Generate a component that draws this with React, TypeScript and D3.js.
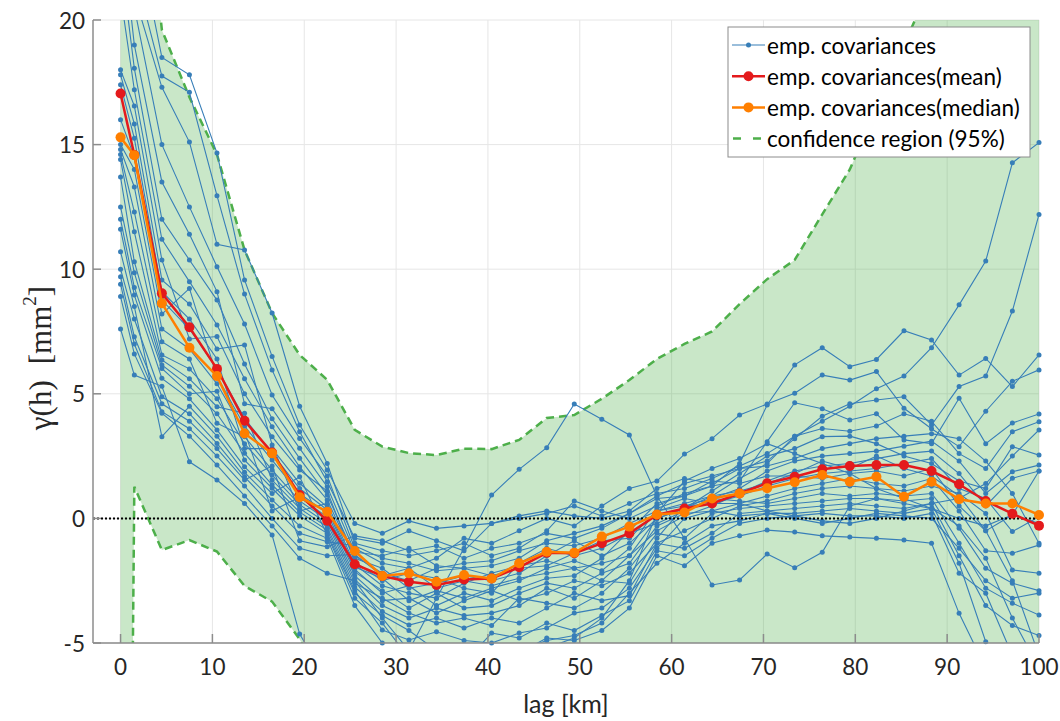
import React from 'react';
import * as d3 from 'd3';

// lag positions [km]
const lags = [0, 1.5, 4.5, 7.5, 10.5, 13.5, 16.5, 19.5, 22.5, 25.5, 28.5, 31.4, 34.4, 37.4, 40.4, 43.4, 46.4, 49.4, 52.4, 55.4, 58.4, 61.4, 64.4, 67.4, 70.4, 73.4, 76.4, 79.4, 82.3, 85.3, 88.3, 91.3, 94.2, 97.1, 100];

const meanCov = [17.05, 14.58, 9.03, 7.67, 6.0, 3.92, 2.64, 0.94, -0.09, -1.84, -2.31, -2.54, -2.67, -2.45, -2.41, -1.96, -1.38, -1.4, -1.0, -0.6, 0.14, 0.4, 0.6, 1.0, 1.41, 1.67, 1.97, 2.1, 2.14, 2.14, 1.9, 1.37, 0.7, 0.19, -0.29];
const medianCov = [15.29, 14.57, 8.63, 6.85, 5.71, 3.41, 2.61, 0.85, 0.27, -1.31, -2.31, -2.2, -2.54, -2.27, -2.41, -1.8, -1.34, -1.38, -0.73, -0.33, 0.16, 0.24, 0.8, 1.0, 1.21, 1.45, 1.74, 1.47, 1.67, 0.87, 1.47, 0.77, 0.6, 0.6, 0.14];
const upperCI = [60, 30, 19.6, 16.9, 14.6, 10.77, 8.24, 6.56, 5.56, 3.55, 2.88, 2.62, 2.54, 2.8, 2.78, 3.15, 4.03, 4.15, 4.8, 5.55, 6.4, 7.0, 7.5, 8.6, 9.6, 10.37, 12.2, 14.0, 16.5, 19.0, 21.5, 24.5, 27.5, 31, 35];
const lowerCI = [-60, 1.27, -1.27, -0.87, -1.33, -2.71, -3.34, -4.85, -7.0, -8.5, -9.5, -10.2, -10.8, -11.0, -11.2, -11.0, -10.8, -10.6, -10.4, -10.3, -10.1, -10.0, -10.0, -10.2, -10.4, -10.8, -11.3, -12.0, -12.8, -13.8, -15.0, -16.5, -18.0, -20.0, -22.0];

const s01 = [30, 24, 18.5, 17.8, 14.66, 9.57, 6.5, 3.75, 1.94, -0.2, -0.6, -0.1, -0.4, -0.3, -0.2, 0.0, 0.2, 0.5, 0.1, 0.6, 1.0, 1.2, 1.6, 2.1, 2.6, 3.3, 3.9, 4.5, 5.2, 5.71, 6.85, 8.57, 10.33, 14.27, 15.08];
const s02 = [28, 22, 17.75, 17.1, 12.95, 9.0, 5.96, 3.48, 1.47, -0.8, -1.0, -0.5, -0.9, -1.3, -0.2, 0.1, 0.3, 0.1, 0.0, 0.3, 1.2, 1.6, 1.4, 2.0, 2.3, 3.2, 4.1, 4.6, 4.75, 4.88, 3.75, 5.29, 5.71, 8.32, 12.2];
const s03 = [26, 21, 17.3, 15.1, 11.0, 10.77, 8.24, 4.5, 2.2, -1.0, -1.3, -1.5, -1.3, -1.0, -1.5, -1.2, -0.5, 0.7, 0.3, 0.0, 0.5, 1.0, 1.3, 2.2, 4.55, 6.16, 6.85, 6.09, 6.38, 7.53, 7.16, 5.75, 6.42, 5.29, 6.56];
const s04 = [25, 20.5, 15.0, 12.5, 10.1, 7.8, 4.95, 3.21, 1.7, -1.2, -1.8, -2.0, -1.6, -0.8, -1.0, -0.5, 0.0, -0.3, 0.5, 1.2, 1.5, 2.58, 3.2, 4.15, 4.59, 5.02, 5.75, 5.55, 5.89, 4.42, 3.6, 2.88, 4.3, 5.5, 5.96];
const s05 = [24, 19, 13.5, 11.4, 9.1, 4.6, 4.4, 2.81, 1.27, -1.35, -1.5, -1.2, -1.9, -2.0, -1.9, -1.6, -0.9, -0.6, -0.3, 0.2, 0.8, 0.9, 1.3, 1.5, 3.08, 4.64, 4.4, 3.95, 4.2, 3.15, 3.0, 4.82, 3.0, 3.83, 4.19];
const s06 = [22.5, 18.06, 12.0, 10.37, 8.76, 6.2, 4.0, 2.41, 0.94, -1.5, -2.2, -2.5, -2.0, -1.8, -1.7, -1.3, -1.0, -1.1, -0.8, -0.2, 0.3, 0.6, 0.9, 1.6, 2.2, 3.3, 3.61, 3.5, 3.71, 4.2, 3.9, 2.6, 2.0, 3.48, 3.88];
const s07 = [21, 17.2, 11.2, 9.5, 7.76, 5.6, 3.68, 2.07, 0.74, -1.6, -2.0, -2.8, -2.6, -2.3, -2.5, -2.2, -1.5, -0.9, -1.5, -1.0, 0.0, 0.4, 1.1, 1.8, 2.5, 2.8, 3.28, 3.3, 3.0, 2.5, 2.2, 1.5, 1.2, 2.88, 2.54];
const s08 = [18.0, 16.55, 10.37, 7.2, 7.3, 5.0, 3.28, 1.94, 1.1, -1.75, -2.5, -2.2, -2.4, -2.8, -3.0, -1.8, -1.2, -1.5, -1.2, -0.6, -0.2, 0.3, 0.8, 1.2, 1.9, 2.3, 2.5, 2.6, 2.7, 2.9, 3.1, 2.3, 1.0, 1.87, 2.14];
const s09 = [17.8, 15.83, 9.57, 8.6, 6.8, 6.96, 2.95, 0.3, 0.6, -1.85, -2.7, -3.0, -3.2, -2.6, -2.2, -1.9, -1.7, -2.0, -1.8, -1.5, -0.5, 0.1, 0.5, 1.0, 1.5, 1.9, 2.1, 2.2, 2.4, 2.6, 2.7, 1.8, 0.5, 1.61, 1.9];
const s10 = [17.4, 15.25, 9.1, 8.0, 6.4, 2.8, 2.8, 1.41, 0.45, -1.95, -2.4, -3.3, -2.9, -3.2, -2.8, -2.5, -2.0, -1.7, -2.1, -1.2, 0.4, 0.8, 0.6, 0.9, 1.3, 1.6, 1.8, 1.9, 2.0, 2.2, 2.4, 1.2, 0.8, -0.53, 0.07];
const s11 = [16.0, 14.5, 8.76, 7.6, 6.0, 4.02, 2.61, 1.2, 0.34, -2.05, -3.0, -2.7, -3.5, -3.0, -3.3, -2.8, -2.4, -2.3, -1.6, -0.5, 0.6, 0.9, 1.5, 1.4, 1.7, 1.7, 1.6, 1.8, 1.9, 1.7, 2.0, 0.5, -0.5, 0.14, -0.2];
const s12 = [15.0, 14.0, 8.2, 9.23, 5.7, 3.7, 2.34, 1.0, 0.2, -2.15, -2.9, -3.6, -3.0, -3.6, -3.5, -3.0, -2.6, -2.8, -2.2, -1.8, -0.3, 0.2, 0.3, 0.6, 0.9, 1.2, 1.4, 1.6, 1.4, 1.3, 1.6, 0.3, -1.3, -1.4, -1.07];
const s13 = [14.8, 13.3, 7.6, 6.8, 5.4, 3.48, 0.3, 0.85, 0.05, -2.3, -3.3, -3.2, -3.8, -3.3, -2.9, -3.3, -3.0, -2.5, -2.7, -2.2, -1.0, -0.5, 0.0, 0.5, 0.7, 1.0, 1.2, 1.3, 1.2, 1.1, 1.3, 1.0, 0.2, -2.07, -2.2];
const s14 = [14.6, 12.3, 7.09, 6.4, 3.82, 3.28, 1.94, 0.7, -0.07, -2.45, -3.5, -4.0, -3.6, -3.9, -3.8, -3.5, -2.8, -3.2, -2.5, -2.6, -0.8, 0.5, 0.8, 0.7, 0.6, 0.8, 1.0, 0.9, 1.0, 0.9, 1.0, -0.4, -2.0, -2.6, -2.9];
const s15 = [14.4, 11.5, 6.56, 6.0, 4.8, 3.0, 1.74, 0.55, -0.2, -2.6, -3.2, -3.8, -4.2, -4.0, -4.3, -3.2, -3.4, -3.6, -3.0, -2.0, -0.6, -0.8, 0.2, 0.4, 0.5, 0.6, 0.7, 0.8, 0.8, 0.7, 0.8, -1.0, -2.8, -3.4, -3.88];
const s16 = [13.7, 10.3, 6.36, 5.6, 4.48, 4.22, 1.54, 0.4, -0.35, -2.75, -3.74, -4.28, -4.0, -4.4, -4.0, -4.2, -3.6, -3.0, -3.3, -3.1, -1.0, -1.2, -0.6, 0.2, 0.3, 0.4, 0.5, 0.6, 0.5, 0.4, 0.6, -1.5, -3.5, -4.3, -4.7];
const s17 = [12.5, 9.86, 6.16, 5.3, 4.2, 2.61, 1.35, 0.25, -0.47, -2.9, -4.48, -4.88, -4.55, -4.9, -5.0, -4.6, -4.4, -3.8, -3.6, -2.8, -1.2, 0.0, 0.3, 0.1, 0.2, 0.2, 0.3, 0.4, 0.3, 0.2, 0.4, -1.8, -4.95, -6.5, -7.5];
const s18 = [12.0, 9.27, 6.02, 5.0, 5.1, 2.34, 1.21, 0.1, -0.6, -3.0, -3.9, -4.5, -5.3, -5.8, -4.6, -4.8, -4.2, -4.5, -3.9, -3.3, -1.3, -1.5, -0.8, -0.2, 0.0, 0.1, 0.2, 0.1, 0.1, 0.0, 0.2, -2.2, -3.0, -5.5, -8.0];
const s19 = [11.6, 8.96, 5.62, 4.8, 3.55, 2.07, 1.0, 1.67, -0.67, -3.2, -4.2, -5.6, -6.0, -5.2, -5.5, -5.3, -4.9, -4.7, -4.2, -3.0, -1.8, -1.0, -0.3, -0.1, 0.2, 0.0, -0.2, 0.0, 0.2, 0.1, 0.0, -1.2, -2.5, -3.2, -3.0];
const s20 = [10.7, 8.5, 3.28, 4.5, 3.3, 1.85, 0.74, -0.3, -0.8, -3.5, -5.0, -6.5, -7.0, -6.2, -5.8, -5.6, -5.2, -4.8, -4.0, -2.5, 0.2, 1.5, 2.0, 2.4, 3.0, 2.6, 2.2, 1.8, 1.2, 0.8, 0.4, -0.3, -1.6, -4.0, -6.0];
const s21 = [10.0, 8.0, 4.88, 4.2, 3.01, 1.67, 0.5, -0.6, -0.94, -1.1, -1.6, -1.8, -2.1, -2.0, -2.3, -2.0, -1.9, -1.4, -0.9, -0.8, 0.3, 0.5, 0.6, 0.6, 0.3, 0.1, -0.1, -0.2, 0.0, 0.3, 0.6, 0.8, 1.4, 2.5, 3.55];
const s22 = [9.7, 7.29, 4.6, 3.9, 2.8, 1.54, 2.1, -0.9, -1.14, -0.7, -0.9, -1.3, -1.1, -1.6, -1.2, -1.0, -0.6, -0.8, -0.4, 0.2, 0.9, 1.4, 1.7, 2.0, 2.1, 2.4, 2.8, 3.0, 3.2, 3.3, 3.4, 3.2, 2.3, 1.0, -1.0];
const s23 = [9.4, 7.0, 4.28, 3.6, 2.5, 1.3, 0.0, -1.2, -1.5, -1.45, -2.3, -2.0, -2.8, -2.5, -2.7, -2.4, -2.2, -2.0, -2.5, -1.5, 0.0, 0.4, 0.9, 1.1, 1.4, 1.8, 2.3, 2.0, 2.5, 2.0, 1.7, 0.9, -0.5, -2.5, -5.5];
const s24 = [8.9, 6.6, 4.22, 3.3, 2.14, 0.9, -0.3, -1.6, -2.2, -2.5, -4.0, -5.3, -3.2, -1.2, 0.94, 1.97, 2.84, 4.59, 3.98, 3.35, 0.9, -0.8, -2.67, -2.47, -1.43, -1.98, -1.36, 0.5, 0.8, 0.6, 0.4, 0.0, -0.3, 0.14, 1.9];
const s25 = [7.6, 5.75, 5.3, 2.27, 1.54, 0.6, -0.67, -4.64, -6.5, -7.5, -7.0, -6.8, -6.0, -5.6, -5.9, -5.4, -4.8, -4.9, -4.5, -3.6, -1.5, -1.9, -1.0, -0.7, -0.47, -0.55, -0.7, -0.75, -0.8, -0.87, -1.0, -3.81, -6.0, -9.0, -12];

const empSeries = [s01, s02, s03, s04, s05, s06, s07, s08, s09, s10, s11, s12, s13, s14, s15, s16, s17, s18, s19, s20, s21, s22, s23, s24, s25];

const xTicks = [0, 10, 20, 30, 40, 50, 60, 70, 80, 90, 100];
const yTicks = [-5, 0, 5, 10, 15, 20];
const legendLabels = ['emp. covariances', 'emp. covariances(mean)', 'emp. covariances(median)', 'confidence region (95%)'];

const BLUE = '#377eb8';
const RED = '#e41a1c';
const ORANGE = '#ff7f00';
const GREEN = '#4daf4a';

export default function App() {
  const L = 93, R = 1039, T = 20, B = 643;
  const x = d3.scaleLinear().domain([-3, 100]).range([L, R]);
  const y = d3.scaleLinear().domain([-5, 20]).range([B, T]);

  const line = d3.line<number>().x((_, i) => x(lags[i])).y((d) => y(d));
  const area = d3
    .area<number>()
    .x((_, i) => x(lags[i]))
    .y0((_, i) => y(lowerCI[i]))
    .y1((_, i) => y(upperCI[i]));

  const inside = (v: number, i: number) => v >= -5 && v <= 20 && lags[i] <= 100;

  const font = "Lato, 'Noto Sans', sans-serif";

  return (
    <svg width={1060} height={721} style={{ position: 'absolute', left: 0, top: 0, background: '#fff' }}>
      <defs>
        <clipPath id="plotClip">
          <rect x={L} y={T} width={R - L} height={B - T} />
        </clipPath>
      </defs>

      {/* grid */}
      {xTicks.map((t) => (
        <line key={'gx' + t} x1={x(t)} x2={x(t)} y1={T} y2={B} stroke="#e6e6e6" strokeWidth={1} />
      ))}
      {yTicks.map((t) => (
        <line key={'gy' + t} x1={L} x2={R} y1={y(t)} y2={y(t)} stroke="#e6e6e6" strokeWidth={1} />
      ))}

      <g clipPath="url(#plotClip)">
        <path d={area(upperCI) || ''} fill={GREEN} fillOpacity={0.3} stroke="none" />
        <path d={line(upperCI) || ''} fill="none" stroke={GREEN} strokeWidth={2.5} strokeDasharray="8,5" />
        <path d={line(lowerCI) || ''} fill="none" stroke={GREEN} strokeWidth={2.5} strokeDasharray="8,5" />
        {empSeries.map((s, k) => (
          <path key={'bl' + k} d={line(s) || ''} fill="none" stroke={BLUE} strokeWidth={1.1} />
        ))}
      </g>
      {empSeries.map((s, k) => (
        <g key={'bm' + k}>
          {s.map((v, i) =>
            inside(v, i) ? <circle key={i} cx={x(lags[i])} cy={y(v)} r={2.5} fill={BLUE} /> : null
          )}
        </g>
      ))}

      {/* zero line */}
      <line x1={L} x2={R} y1={y(0)} y2={y(0)} stroke="#000" strokeWidth={2} strokeDasharray="2,2" />

      <g clipPath="url(#plotClip)">
        <path d={line(meanCov) || ''} fill="none" stroke={RED} strokeWidth={2.5} />
      </g>
      {meanCov.map((v, i) => (
        <circle key={'rm' + i} cx={x(lags[i])} cy={y(v)} r={5} fill={RED} />
      ))}
      <g clipPath="url(#plotClip)">
        <path d={line(medianCov) || ''} fill="none" stroke={ORANGE} strokeWidth={2.5} />
      </g>
      {medianCov.map((v, i) => (
        <circle key={'om' + i} cx={x(lags[i])} cy={y(v)} r={5} fill={ORANGE} />
      ))}

      {/* axes */}
      <line x1={L} x2={L} y1={T} y2={B} stroke="#8c8c8c" strokeWidth={1.5} />
      <line x1={L} x2={R} y1={B} y2={B} stroke="#8c8c8c" strokeWidth={1.5} />
      {yTicks.map((t) => (
        <g key={'yt' + t}>
          <line x1={L} x2={L + 8} y1={y(t)} y2={y(t)} stroke="#8c8c8c" strokeWidth={1.5} />
          <text x={85} y={y(t)} textAnchor="end" dominantBaseline="central" fontFamily={font} fontSize={22.5} fill="#262626">
            {t}
          </text>
        </g>
      ))}
      {xTicks.map((t) => (
        <g key={'xt' + t}>
          <line x1={x(t)} x2={x(t)} y1={B} y2={B - 9} stroke="#8c8c8c" strokeWidth={1.5} />
          <text x={x(t)} y={666} textAnchor="middle" dominantBaseline="central" fontFamily={font} fontSize={22.5} fill="#262626">
            {t}
          </text>
        </g>
      ))}

      <text x={(L + R) / 2} y={703} textAnchor="middle" dominantBaseline="central" fontFamily={font} fontSize={25} fill="#262626">
        lag [km]
      </text>
      <text
        transform={`translate(40, 358) rotate(-90)`}
        textAnchor="middle"
        dominantBaseline="central"
        fontFamily="'Liberation Serif', serif"
        fontSize={31}
        fill="#262626"
      >
        <tspan>γ(h)</tspan>
        <tspan dx={16}>[mm</tspan>
        <tspan dy={-11} fontSize={19}>2</tspan>
        <tspan dy={11}>]</tspan>
      </text>

      {/* legend */}
      <g>
        <rect x={728} y={27} width={302} height={130} fill="#fff" stroke="#8c8c8c" strokeWidth={1} />
        {legendLabels.map((lab, i) => {
          const cy = 45 + i * 31.2;
          return (
            <g key={'lg' + i}>
              {i === 0 && (
                <>
                  <line x1={732} x2={765} y1={cy} y2={cy} stroke={BLUE} strokeWidth={1.1} />
                  <circle cx={748.5} cy={cy} r={2.5} fill={BLUE} />
                </>
              )}
              {i === 1 && (
                <>
                  <line x1={732} x2={765} y1={cy} y2={cy} stroke={RED} strokeWidth={2.5} />
                  <circle cx={748.5} cy={cy} r={5} fill={RED} />
                </>
              )}
              {i === 2 && (
                <>
                  <line x1={732} x2={765} y1={cy} y2={cy} stroke={ORANGE} strokeWidth={2.5} />
                  <circle cx={748.5} cy={cy} r={5} fill={ORANGE} />
                </>
              )}
              {i === 3 && <line x1={733} x2={765} y1={cy} y2={cy} stroke={GREEN} strokeWidth={2.5} strokeDasharray="8,12" />}
              <text x={767} y={cy} dominantBaseline="central" fontFamily={font} fontSize={22.5} fill="#000">
                {lab}
              </text>
            </g>
          );
        })}
      </g>
    </svg>
  );
}
